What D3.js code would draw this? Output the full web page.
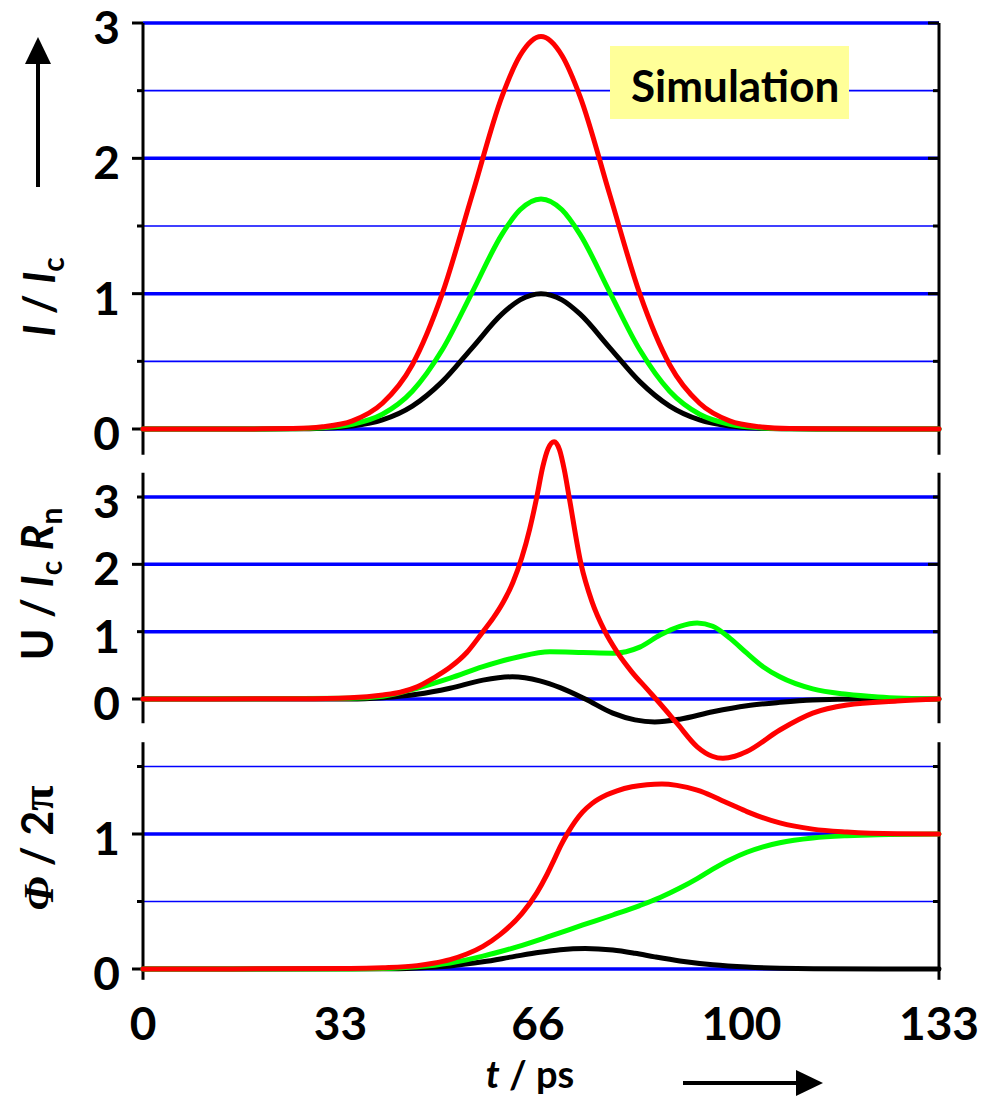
<!DOCTYPE html>
<html>
<head>
<meta charset="utf-8">
<script src="https://cdn.jsdelivr.net/npm/d3@7"></script>
<style>
  html, body { margin: 0; padding: 0; background: #fff; }
  svg { display: block; }
  text { font-family: Lato, "Open Sans", sans-serif; font-weight: 700; fill: #000; }
</style>
</head>
<body>
<svg id="chart" width="992" height="1101"></svg>
<script>
// ---- current pulse I / Ic (three drive amplitudes) ----
const timeI = [0, 20, 25, 30, 35, 40, 45, 50, 55, 60, 63, 66.5, 70, 73, 78, 83, 88, 93, 98, 103, 108, 113, 133];
const currentBlack = [0, 0, 0.001, 0.006, 0.022, 0.067, 0.169, 0.35, 0.6, 0.85, 0.954, 1.0, 0.954, 0.85, 0.6, 0.35, 0.169, 0.067, 0.022, 0.006, 0.001, 0, 0];
const currentGreen = [0, 0, 0.002, 0.009, 0.035, 0.109, 0.279, 0.585, 1.01, 1.44, 1.62, 1.7, 1.62, 1.44, 1.01, 0.585, 0.279, 0.109, 0.035, 0.009, 0.002, 0, 0];
const currentRed = [0, 0.001, 0.003, 0.016, 0.06, 0.19, 0.475, 1.0, 1.73, 2.46, 2.76, 2.9, 2.76, 2.46, 1.73, 1.0, 0.475, 0.19, 0.06, 0.016, 0.003, 0.001, 0];

// ---- voltage U / (Ic Rn) ----
const timeUBlack = [0, 34.6, 40.1, 45.8, 51.3, 56.8, 61.7, 66.3, 69.7, 73.9, 78.5, 82.2, 85.5, 89.7, 95.2, 100.9, 106.4, 111.9, 120.3, 133];
const voltageBlack = [0, 0, 0.02, 0.07, 0.16, 0.28, 0.33, 0.27, 0.17, 0, -0.21, -0.31, -0.34, -0.3, -0.19, -0.1, -0.05, -0.015, 0, 0];
const timeUGreen = [0, 34.6, 40.1, 45.8, 51.3, 56.8, 62.5, 68, 73.5, 78.5, 83, 86.4, 89.7, 92.6, 95.2, 98.1, 100.9, 103.6, 106.4, 111.9, 117.6, 122.8, 133];
const voltageGreen = [0, 0.01, 0.04, 0.16, 0.31, 0.48, 0.62, 0.7, 0.69, 0.68, 0.77, 0.95, 1.08, 1.13, 1.08, 0.9, 0.68, 0.48, 0.33, 0.15, 0.07, 0.03, 0];
const timeURed = [0, 26.2, 34.6, 40.1, 43, 45.8, 48.5, 51.3, 54.1, 56.8, 58.5, 60.2, 61.8, 63.3, 64.6, 65.8, 66.8, 67.7, 68.7, 69.6, 70.4, 71.2, 73.2, 75.0, 77.2, 79.2, 81.7, 84.2, 86.7, 89.2, 92.6, 95.1, 96.9, 98.9, 100.9, 106.4, 111.9, 117.6, 126, 133];
const voltageRed = [0, 0.005, 0.02, 0.06, 0.1, 0.18, 0.31, 0.47, 0.69, 1.0, 1.2, 1.44, 1.73, 2.1, 2.52, 3.0, 3.45, 3.72, 3.82, 3.7, 3.4, 3.0, 2.0, 1.45, 1.0, 0.7, 0.4, 0.15, -0.1, -0.36, -0.71, -0.85, -0.88, -0.85, -0.78, -0.46, -0.21, -0.09, -0.03, 0];

// ---- phase Φ / 2π ----
const timePBlack = [0, 40.1, 45.8, 51.3, 56.8, 61.7, 66.3, 69.7, 73.9, 78.5, 82.2, 85.5, 89.7, 95.2, 100.9, 106.4, 112, 133];
const phaseBlack = [0, 0.001, 0.008, 0.023, 0.053, 0.09, 0.124, 0.143, 0.152, 0.14, 0.116, 0.09, 0.06, 0.032, 0.015, 0.006, 0.002, 0];
const timePGreen = [0, 35, 40.1, 45.8, 51.3, 56.8, 62.5, 68, 73.5, 78.5, 83, 86.4, 89.7, 92.6, 95.2, 98.1, 100.9, 103.6, 106.4, 111.9, 117.6, 122.8, 133];
const phaseGreen = [0, 0, 0.003, 0.016, 0.045, 0.095, 0.164, 0.243, 0.326, 0.4, 0.47, 0.53, 0.6, 0.67, 0.74, 0.81, 0.865, 0.905, 0.935, 0.97, 0.987, 0.995, 1.0];
const timePRed = [0, 34.6, 40.1, 45.8, 48.5, 51.3, 54.1, 56.8, 59.6, 63.3, 65.8, 67.5, 68.7, 69.8, 71.0, 73.4, 75.0, 77.5, 79.2, 81.7, 84.2, 86.7, 89.2, 92.6, 95.1, 96.9, 98.9, 100.9, 106.4, 111.9, 117.6, 126, 133];
const phaseRed = [0, 0.003, 0.009, 0.025, 0.043, 0.07, 0.111, 0.168, 0.253, 0.41, 0.564, 0.7, 0.81, 0.914, 1.01, 1.16, 1.225, 1.29, 1.32, 1.35, 1.365, 1.37, 1.36, 1.325, 1.282, 1.245, 1.205, 1.166, 1.082, 1.036, 1.015, 1.002, 1.0];

// ---- ticks ----
const timeTicks = [0, 33, 66, 100, 133];
const gridMajorI = [0, 1, 2, 3], gridMinorI = [0.5, 1.5, 2.5], labelsI = [0, 1, 2, 3];
const gridMajorU = [0, 1, 2, 3], gridMinorU = [], labelsU = [0, 1, 2, 3];
const longTicksU = [0, 2], shortTicksU = [1, 3];
const gridMajorP = [0, 1], gridMinorP = [0.5, 1.5], labelsP = [0, 1];

const colBlack = "#000000", colGreen = "#00ff00", colRed = "#ff0000", colGrid = "#0000ff";
const serif = "'Liberation Serif', 'DejaVu Serif', serif";

const svg = d3.select("#chart");
const x = d3.scaleLinear().domain([0, 133]).range([143, 939]);
const xL = x.range()[0], xR = x.range()[1];

const panels = [
  {
    y: d3.scaleLinear().domain([0, 3]).range([429, 23]), extent: [-0.19, 3],
    major: gridMajorI, minor: gridMinorI, labels: labelsI,
    longTicks: gridMajorI, shortTicks: gridMinorI,
    series: [[timeI, currentBlack, colBlack], [timeI, currentGreen, colGreen], [timeI, currentRed, colRed]]
  },
  {
    y: d3.scaleLinear().domain([0, 3]).range([699, 497]), extent: [-0.36, 3.36],
    major: gridMajorU, minor: gridMinorU, labels: labelsU,
    longTicks: longTicksU, shortTicks: shortTicksU,
    series: [[timeUBlack, voltageBlack, colBlack], [timeUGreen, voltageGreen, colGreen], [timeURed, voltageRed, colRed]]
  },
  {
    y: d3.scaleLinear().domain([0, 1]).range([969, 834]), extent: [-0.08, 1.68],
    major: gridMajorP, minor: gridMinorP, labels: labelsP,
    longTicks: gridMajorP, shortTicks: gridMinorP,
    series: [[timePBlack, phaseBlack, colBlack], [timePGreen, phaseGreen, colGreen], [timePRed, phaseRed, colRed]]
  }
];

const gridLayer = svg.append("g");
const boxLayer = svg.append("g");
const axisLayer = svg.append("g");
const curveLayer = svg.append("g");
const textLayer = svg.append("g");

panels.forEach(p => {
  // horizontal grid lines
  gridLayer.selectAll(null).data(p.major).enter().append("line")
    .attr("x1", xL).attr("x2", xR)
    .attr("y1", d => p.y(d)).attr("y2", d => p.y(d))
    .attr("stroke", colGrid).attr("stroke-width", 3.5);
  gridLayer.selectAll(null).data(p.minor).enter().append("line")
    .attr("x1", xL).attr("x2", xR)
    .attr("y1", d => p.y(d)).attr("y2", d => p.y(d))
    .attr("stroke", colGrid).attr("stroke-width", 1.6);

  // left and right frame lines
  [xL, xR].forEach(xx => {
    axisLayer.append("line")
      .attr("x1", xx).attr("x2", xx)
      .attr("y1", p.y(p.extent[0])).attr("y2", p.y(p.extent[1]))
      .attr("stroke", "#000").attr("stroke-width", 3);
  });

  // ticks: outward on the left, inward on the right
  const tickSets = [[p.longTicks, 11], [p.shortTicks, 6]];
  tickSets.forEach(([vals, len]) => {
    axisLayer.selectAll(null).data(vals).enter().append("line")
      .attr("x1", xL - len).attr("x2", xL)
      .attr("y1", d => p.y(d)).attr("y2", d => p.y(d))
      .attr("stroke", "#000").attr("stroke-width", 3);
    axisLayer.selectAll(null).data(vals).enter().append("line")
      .attr("x1", xR - len).attr("x2", xR)
      .attr("y1", d => p.y(d)).attr("y2", d => p.y(d))
      .attr("stroke", "#000").attr("stroke-width", 3);
  });

  // tick labels
  textLayer.selectAll(null).data(p.labels).enter().append("text")
    .attr("x", 120).attr("y", d => p.y(d) + 21)
    .attr("text-anchor", "end").attr("font-size", 46)
    .text(d => d);

  // curves
  p.series.forEach(([ts, vs, col]) => {
    const pts = ts.map((t, i) => [t, vs[i]]);
    const line = d3.line().x(d => x(d[0])).y(d => p.y(d[1])).curve(d3.curveMonotoneX);
    curveLayer.append("path").datum(pts)
      .attr("d", line)
      .attr("fill", "none").attr("stroke", col)
      .attr("stroke-width", 5).attr("stroke-linejoin", "round").attr("stroke-linecap", "round");
  });
});

// time tick labels
textLayer.selectAll(null).data(timeTicks).enter().append("text")
  .attr("x", d => x(d)).attr("y", 1040)
  .attr("text-anchor", "middle").attr("font-size", 46)
  .text(d => d);

// "Simulation" tag
boxLayer.append("rect").attr("x", 610).attr("y", 46).attr("width", 239).attr("height", 73).attr("fill", "#ffff99");
textLayer.append("text").attr("x", 631).attr("y", 102).attr("font-size", 44).text("Simulation");

// axis titles
const tI = textLayer.append("text").attr("transform", "translate(55,297) rotate(-90)")
  .attr("text-anchor", "middle").attr("font-size", 43);
tI.append("tspan").attr("font-style", "italic").text("I");
tI.append("tspan").text(" / ");
tI.append("tspan").attr("font-style", "italic").text("I");
tI.append("tspan").attr("font-size", 30).attr("dy", 9).text("c");

const tU = textLayer.append("text").attr("transform", "translate(53,584) rotate(-90)")
  .attr("text-anchor", "middle").attr("font-size", 43);
tU.append("tspan").text("U / ");
tU.append("tspan").attr("font-style", "italic").text("I");
tU.append("tspan").attr("font-size", 30).attr("dy", 9).text("c");
tU.append("tspan").attr("dy", -9).text(" ");
tU.append("tspan").attr("font-style", "italic").text("R");
tU.append("tspan").attr("font-size", 30).attr("dy", 9).text("n");

const tP = textLayer.append("text").attr("transform", "translate(53,848) rotate(-90)")
  .attr("text-anchor", "middle").attr("font-size", 43);
tP.append("tspan").attr("font-family", serif).attr("font-style", "italic").text("Φ");
tP.append("tspan").text(" / 2");
tP.append("tspan").attr("font-family", serif).attr("font-size", 46).text("π");

const tT = textLayer.append("text").attr("x", 530).attr("y", 1088)
  .attr("text-anchor", "middle").attr("font-size", 38);
tT.append("tspan").attr("font-style", "italic").text("t");
tT.append("tspan").text(" / ps");

// direction arrows
const arrows = svg.append("g");
arrows.append("line").attr("x1", 38).attr("x2", 38).attr("y1", 187).attr("y2", 60)
  .attr("stroke", "#000").attr("stroke-width", 4);
arrows.append("path").attr("d", "M38,37 L25,64 L51,64 Z").attr("fill", "#000");
arrows.append("line").attr("x1", 683).attr("x2", 800).attr("y1", 1083).attr("y2", 1083)
  .attr("stroke", "#000").attr("stroke-width", 4);
arrows.append("path").attr("d", "M823,1083 L796,1070 L796,1096 Z").attr("fill", "#000");
</script>
</body>
</html>
